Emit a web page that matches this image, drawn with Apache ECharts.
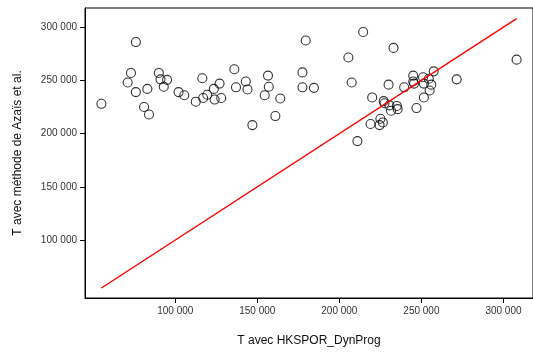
<!DOCTYPE html>
<html>
<head>
<meta charset="utf-8">
<script src="https://cdn.jsdelivr.net/npm/echarts@6/dist/echarts.min.js"></script>
<style>html,body{margin:0;padding:0;background:#fff}#c{width:533px;height:352px}</style>
</head>
<body>
<div id="c"></div>
<script>
// T avec HKSPOR_DynProg (x) vs T avec méthode de Azaïs et al. (y)
const xValues = [55000,76000,73000,71000,76000,83000,81000,84000,90000,91000,95000,93000,102000,105500,112500,116500,117000,119500,123500,127000,124000,128000,
136000,137000,143000,144000,147000,156500,157000,154500,164000,161000,179500,177500,177500,184500,205500,207500,214500,211000,233000,308000,271500,257500,
245000,251000,245000,245500,254500,251500,256000,255000,251500,239500,230000,220000,227000,227500,230500,235000,235500,231500,247000,225000,226500,224500,219000];
const yValues = [228000,286000,257000,248000,239000,242000,225000,218000,257000,251000,250500,244000,239000,236000,230000,252000,233500,236500,242000,247000,232000,233500,
260500,243500,249000,241500,208000,254500,244000,236000,233000,216500,287500,257500,243500,243000,271500,248000,295500,193000,280500,269500,251000,258500,
254500,253000,249000,247000,251500,247000,246000,240500,234000,243500,246000,234000,230500,228500,226500,226000,223000,221500,224000,214000,210500,208000,209000];
const tickValues = [100000,150000,200000,250000,300000];
const xTitle = 'T avec HKSPOR_DynProg';
const yTitle = 'T avec méthode de Azaïs et al.';

const points = xValues.map((v,i)=>[v,yValues[i]]);
const xmin = Math.min(...xValues), xmax = Math.max(...xValues);
const fmt = v => String(v).replace(/\B(?=(\d{3})+(?!\d))/g,' ');
const font = 'Liberation Sans, Arial, sans-serif';

const axisCommon = {
  type:'value',
  nameLocation:'middle',
  nameTextStyle:{fontFamily:font,fontSize:12,color:'#111'},
  axisLine:{show:true,onZero:false,lineStyle:{color:'#000',width:1}},
  axisTick:{show:true,length:5,inside:false,customValues:tickValues,lineStyle:{color:'#000'}},
  axisLabel:{customValues:tickValues,formatter:fmt,fontFamily:font,fontSize:10,color:'#333'},
  splitLine:{show:false}
};

const chart = echarts.init(document.getElementById('c'),null,{renderer:'canvas'});
chart.setOption({
  animation:false,
  backgroundColor:'#fff',
  grid:{left:85,top:8,right:-11,bottom:52,show:true,borderColor:'#000',borderWidth:1,backgroundColor:'transparent'},
  xAxis:Object.assign({},axisCommon,{min:45000,max:318000,name:xTitle,nameGap:37,
    axisLabel:Object.assign({},axisCommon.axisLabel,{margin:8})}),
  yAxis:Object.assign({},axisCommon,{min:45600,max:318000,name:yTitle,nameGap:61,
    axisLabel:Object.assign({},axisCommon.axisLabel,{margin:8})}),
  series:[
    {type:'line',data:[[xmin,xmin],[xmax,xmax]],symbol:'none',lineStyle:{color:'#f00',width:1.4},silent:true},
    {type:'scatter',data:points,symbol:'circle',symbolSize:9,
     itemStyle:{color:'rgba(0,0,0,0)',borderColor:'#000',borderWidth:1.1}}
  ]
});
</script>
</body>
</html>
